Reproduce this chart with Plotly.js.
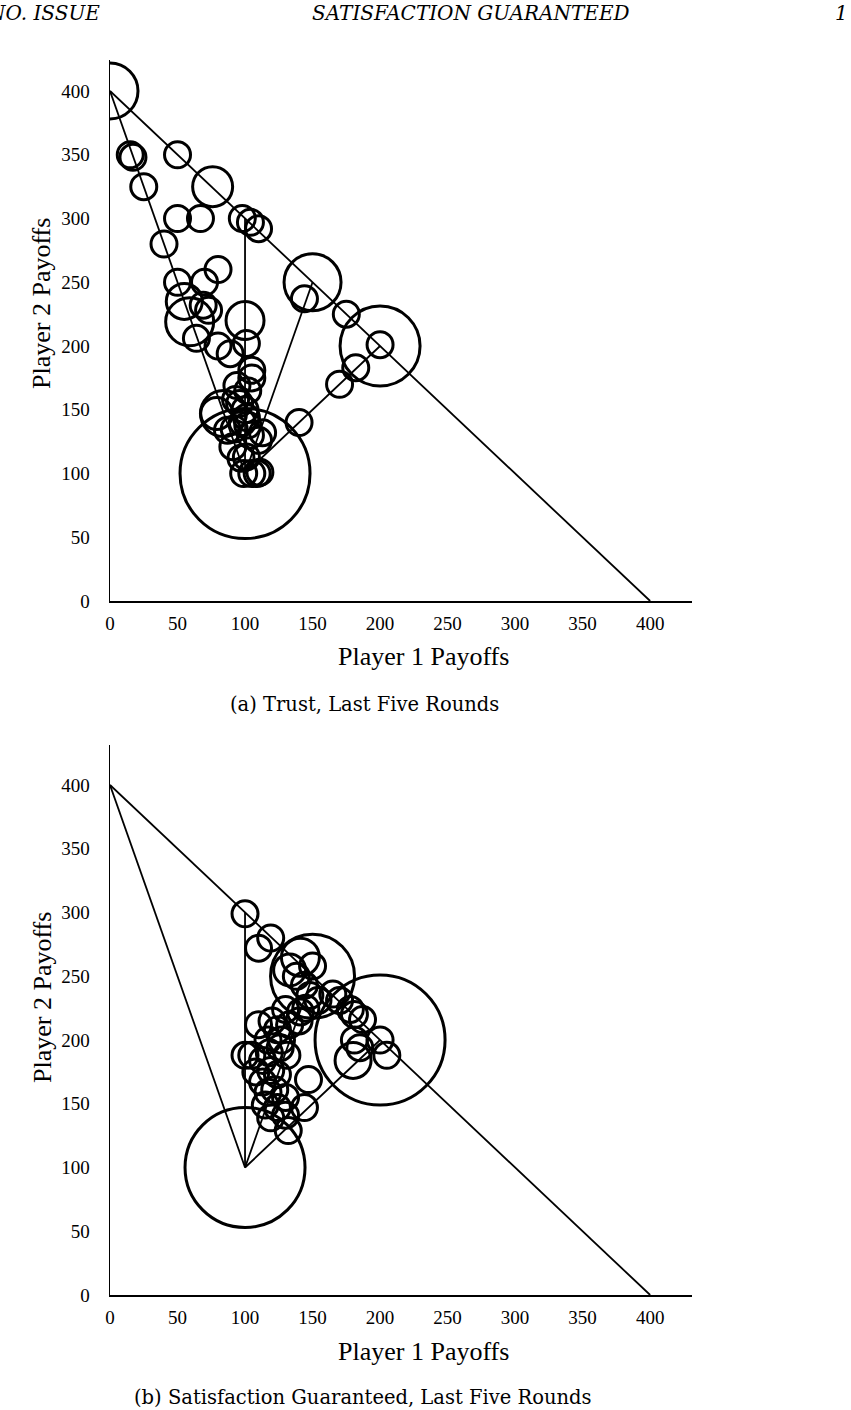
<!DOCTYPE html>
<html>
<head>
<meta charset="utf-8">
<script src="https://cdn.plot.ly/plotly-3.0.1.min.js"></script>
<style>
  html, body { margin: 0; padding: 0; background: #fff; }
  #chart { width: 851px; height: 1410px; }
</style>
</head>
<body>
<div id="chart"></div>
<script>
/* -------------------- Data -------------------- */

// panel (a): Trust, last five rounds
const trustX = [0, 100, 150, 200, 59, 76, 55, 100, 84, 79,
  15, 17, 25, 50, 40, 50, 67, 98, 104, 110,
  50, 70, 80, 69, 73, 64, 80, 101, 89, 105,
  94, 102, 96, 101, 87, 91, 101, 99, 109, 113,
  105, 93, 100, 92, 104, 110, 97, 105, 111,
  144, 175, 200, 182, 170, 140, 98, 102];
const trustY = [400, 100, 250, 200, 219, 325, 235, 220, 147, 147,
  350, 348, 325, 350, 280, 300, 300, 300, 297, 292,
  250, 250, 260, 232, 228, 206, 200, 202, 194, 181,
  169, 165, 155, 144, 134, 121, 113, 100, 100, 132,
  175, 158, 150, 135, 130, 126, 112, 100, 101,
  237, 225, 201, 183, 170, 140, 140, 138];
const trustSize = [56, 130, 57, 80, 48, 40, 36, 38, 46, 32,
  26, 26, 26, 26, 26, 26, 26, 26, 26, 26,
  26, 26, 26, 26, 26, 26, 26, 26, 26, 26,
  26, 26, 26, 26, 26, 26, 26, 26, 26, 26,
  26, 26, 26, 26, 26, 26, 26, 26, 26,
  26, 26, 26, 26, 26, 26, 26, 26];

// panel (b): Satisfaction Guaranteed, last five rounds
const satX = [100, 200, 150, 141, 180, 133,
  100, 110, 119, 144, 148, 130, 141, 154, 170, 178,
  181, 187, 181, 185, 200, 205, 110, 100, 105, 113,
  126, 131, 117, 124, 133, 119, 124, 113, 117, 122,
  130, 115, 124, 144, 147, 119, 132, 130, 140, 145,
  150, 138, 165, 120, 127, 108, 118];
const satY = [100, 200, 250, 265, 184, 255,
  299, 272, 280, 243, 235, 224, 222, 231, 231, 224,
  220, 216, 200, 194, 200, 188, 212, 188, 188, 184,
  194, 188, 200, 208, 212, 176, 173, 167, 159, 161,
  155, 149, 147, 147, 169, 139, 129, 141, 215, 225,
  258, 250, 236, 215, 200, 175, 190];
const satSize = [120, 130, 84, 38, 36, 32,
  26, 26, 26, 26, 26, 26, 26, 26, 26, 26,
  26, 26, 26, 26, 26, 26, 26, 26, 26, 26,
  26, 26, 26, 26, 26, 26, 26, 26, 26, 26,
  26, 26, 26, 26, 26, 26, 26, 26, 26, 26,
  26, 26, 26, 26, 26, 26, 26];

// frontier and reference segments (same in both panels), null breaks segments
const segX = [0, 400, null, 0, 100, null, 100, 100, null, 100, 150, null, 100, 200];
const segY = [400, 0, null, 400, 100, null, 100, 300, null, 100, 250, null, 100, 200];

const tickVals = [0, 50, 100, 150, 200, 250, 300, 350, 400];

/* -------------------- Helpers -------------------- */

const W = 851, H = 1410;
const px = (x) => x / W;
const py = (y) => 1 - y / H;

const serif = '"Liberation Serif", "Times New Roman", serif';
const cmSerif = '"DejaVu Serif", serif';

function bubbles(xs, ys, sizes, xa, ya) {
  return {
    x: xs, y: ys, xaxis: xa, yaxis: ya,
    type: "scatter", mode: "markers",
    hoverinfo: "skip",
    marker: {
      symbol: "circle-open",
      size: sizes,
      sizemode: "diameter",
      color: "#000",
      opacity: 1,
      line: { color: "#000", width: 3 },
    },
    showlegend: false,
  };
}

function segments(xa, ya) {
  return {
    x: segX, y: segY, xaxis: xa, yaxis: ya,
    type: "scatter", mode: "lines",
    line: { color: "#000", width: 1.8 },
    hoverinfo: "skip",
    showlegend: false,
    connectgaps: false,
  };
}

function xAxis(anchor) {
  return {
    domain: [px(110), px(692)],
    range: [0, 431],
    anchor: anchor,
    showline: true, linecolor: "#000", linewidth: 1.5,
    showgrid: false, zeroline: false,
    ticks: "", tickvals: tickVals,
    ticklabelstandoff: 5,
    tickfont: { family: serif, size: 19, color: "#000" },
    fixedrange: true,
  };
}

function yAxis(anchor, top, bottom) {
  return {
    domain: [py(bottom), py(top)],
    range: [0, (bottom - top) / 1.275],
    anchor: anchor,
    showline: true, linecolor: "#000", linewidth: 1.5,
    showgrid: false, zeroline: false,
    ticks: "", tickvals: tickVals,
    ticklabelstandoff: 15,
    tickfont: { family: serif, size: 19, color: "#000" },
    fixedrange: true,
  };
}

function note(text, x, y, opts) {
  return Object.assign({
    text: text, xref: "paper", yref: "paper",
    x: px(x), y: py(y), showarrow: false,
    xanchor: "center", yanchor: "middle",
    borderpad: 0,
    font: { family: serif, size: 17, color: "#000" },
  }, opts || {});
}

/* -------------------- Figure -------------------- */

const traces = [
  segments("x", "y"),
  bubbles(trustX, trustY, trustSize, "x", "y"),
  segments("x2", "y2"),
  bubbles(satX, satY, satSize, "x2", "y2"),
];

const headFont = () => ({ family: cmSerif, size: 20, color: "#000" });
const titleFont = () => ({ family: serif, size: 26, color: "#000" });
const capFont = () => ({ family: cmSerif, size: 19.5, color: "#000" });

const layout = {
  width: W, height: H,
  margin: { l: 0, r: 0, t: 0, b: 0 },
  paper_bgcolor: "#fff", plot_bgcolor: "#fff",
  xaxis: xAxis("y"),
  yaxis: yAxis("x", 60, 601),
  xaxis2: xAxis("y2"),
  yaxis2: yAxis("x2", 745, 1295),
  annotations: [
    // running header
    note("<i>NO. ISSUE</i>", -14, 13, { xanchor: "left", font: headFont() }),
    note("<i>SATISFACTION GUARANTEED</i>", 471, 13, { font: headFont() }),
    note("<i>1</i>", 834, 13, { xanchor: "left", font: headFont() }),
    // panel (a)
    note("Player 1 Payoffs", 423, 657, { font: titleFont() }),
    note("Player 2 Payoffs", 42, 304, { textangle: -90, font: titleFont() }),
    note("(a) Trust, Last Five Rounds", 364, 704, { font: capFont() }),
    // panel (b)
    note("Player 1 Payoffs", 423, 1351, { font: titleFont() }),
    note("Player 2 Payoffs", 42, 998, { textangle: -90, font: titleFont() }),
    note("(b) Satisfaction Guaranteed, Last Five Rounds", 363, 1397, { font: capFont() }),
  ],
};

Plotly.newPlot("chart", traces, layout, { displayModeBar: false, staticPlot: true });
</script>
</body>
</html>
